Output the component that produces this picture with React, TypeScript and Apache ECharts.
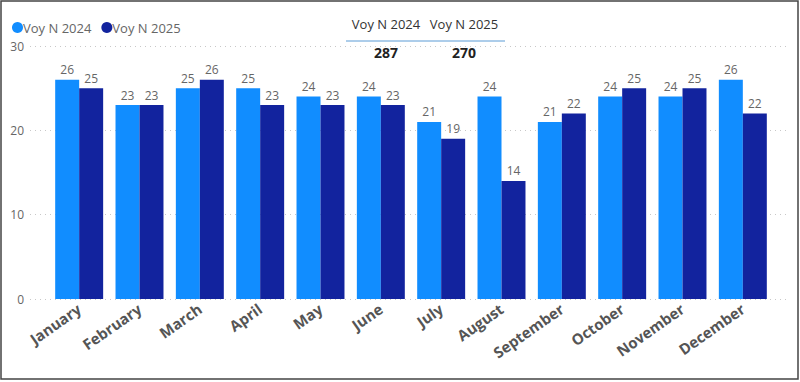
import React, { useEffect, useRef } from "react";
import * as echarts from "echarts";

const months = ["January","February","March","April","May","June","July","August","September","October","November","December"];
const voy2024 = [26, 23, 25, 25, 24, 24, 21, 24, 21, 24, 24, 26];
const voy2025 = [25, 23, 26, 23, 23, 23, 19, 14, 22, 25, 25, 22];
const seriesNames = ["Voy N 2024", "Voy N 2025"];
const colors = ["#118DFF", "#12239E"];
const yTicks = { min: 0, max: 30, interval: 10 };

const FONT = "'Segoe UI', 'Open Sans', sans-serif";

export default function App() {
  const ref = useRef<HTMLDivElement>(null);
  useEffect(() => {
    document.body.style.margin = "0";
    const chart = echarts.init(ref.current!, null, { renderer: "svg" });
    const total24 = voy2024.reduce((a, b) => a + b, 0);
    const total25 = voy2025.reduce((a, b) => a + b, 0);
    const label = { show: true, position: "top", distance: 4, color: "#666", fontSize: 12, fontFamily: FONT };
    chart.setOption({
      animation: false,
      textStyle: { fontFamily: FONT },
      legend: {
        left: 7, top: 16, itemWidth: 11, itemHeight: 11, itemGap: 10,
        icon: "circle",
        textStyle: { color: "#666", fontSize: 13, fontFamily: FONT, padding: [0, 0, 0, -5] },
        data: seriesNames,
      },
      grid: [
        { left: 30, right: 10, top: 46, bottom: 83 },
        { left: 49, right: 27, top: 46, bottom: 83 },
      ],
      xAxis: [
        { gridIndex: 0, type: "category", data: [""], show: false },
        {
          gridIndex: 1, type: "category", data: months,
          axisLine: { show: false }, axisTick: { show: false },
          axisLabel: { rotate: 35, margin: 8, color: "#555", fontSize: 15, fontWeight: "bold", fontFamily: FONT, interval: 0 },
        },
      ],
      yAxis: [
        {
          gridIndex: 0, type: "value", ...yTicks,
          axisLine: { show: false }, axisTick: { show: false },
          axisLabel: { color: "#666", fontSize: 12, margin: 6, fontFamily: FONT },
          splitLine: { lineStyle: { type: [1, 4], color: "#c8c8c8", width: 1 } },
        },
        { gridIndex: 1, type: "value", ...yTicks, show: false, splitLine: { show: false } },
      ],
      series: [
        {
          name: seriesNames[0], type: "bar", xAxisIndex: 1, yAxisIndex: 1, data: voy2024,
          itemStyle: { color: colors[0] }, barGap: "0%", barCategoryGap: "20.5%", label,
        },
        {
          name: seriesNames[1], type: "bar", xAxisIndex: 1, yAxisIndex: 1, data: voy2025,
          itemStyle: { color: colors[1] }, barGap: "0%", barCategoryGap: "20.5%", label,
        },
      ],
      graphic: [
        { type: "rect", shape: { x: 1, y: 1, width: 797, height: 378 }, style: { fill: "none", stroke: "#444", lineWidth: 1.5 }, silent: true },
        { type: "text", x: 386, y: 24, style: { text: seriesNames[0], fill: "#333", font: `13px ${FONT}`, align: "center", verticalAlign: "middle" } },
        { type: "text", x: 464, y: 24, style: { text: seriesNames[1], fill: "#333", font: `13px ${FONT}`, align: "center", verticalAlign: "middle" } },
        { type: "line", shape: { x1: 346, y1: 41, x2: 505, y2: 41 }, style: { stroke: "#5b9bd5", lineWidth: 1 } },
        { type: "text", x: 386, y: 52, style: { text: String(total24), fill: "#222", font: `bold 14px ${FONT}`, align: "center", verticalAlign: "middle" } },
        { type: "text", x: 464, y: 52, style: { text: String(total25), fill: "#222", font: `bold 14px ${FONT}`, align: "center", verticalAlign: "middle" } },
      ],
    });
    return () => chart.dispose();
  }, []);
  return <div ref={ref} style={{ width: 800, height: 382 }} />;
}
